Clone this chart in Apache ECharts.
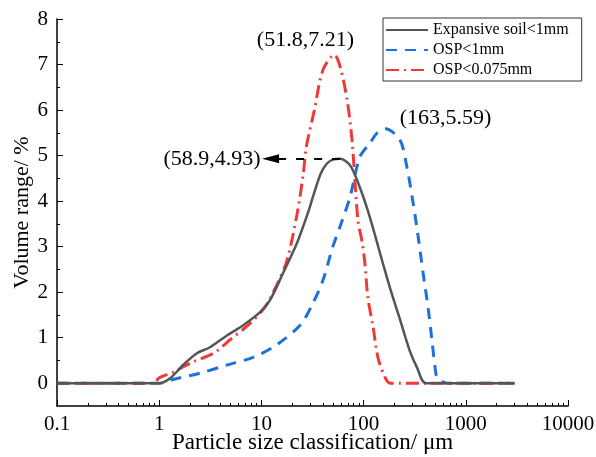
<!DOCTYPE html>
<html>
<head>
<meta charset="utf-8">
<script src="https://cdn.jsdelivr.net/npm/echarts@6/dist/echarts.min.js"></script>
<style>
    html, body {margin: 0; padding: 0; background: #fff;}
    #main {width: 596px; height: 457px;}
</style>
</head>
<body>
<div id="main"></div>
<script>
    // particle size (um) / volume (%)
    const soilX = [0.1, 1.0, 1.28, 1.71, 2.34, 3.14, 4.6, 6.6, 9.7, 12.1, 16.3, 22.3, 28.6, 32, 38, 43.6, 50, 58.9, 73.6, 92, 115, 160, 182, 227, 284, 331, 407, 1000, 3000]
    const soilY = [0, 0, 0.11, 0.40, 0.66, 0.79, 1.05, 1.27, 1.56, 1.82, 2.42, 3.08, 3.75, 4.10, 4.60, 4.82, 4.91, 4.93, 4.79, 4.30, 3.65, 2.51, 2.08, 1.40, 0.70, 0.36, 0, 0, 0]

    const osp1X = [0.1, 1.0, 1.28, 2.5, 4.6, 8.3, 14, 24, 32, 40, 50, 59, 73.6, 92, 115, 135, 163, 227, 265, 302, 338, 382, 427, 466, 500, 525, 660, 1000, 3000]
    const osp1Y = [0, 0, 0.07, 0.22, 0.40, 0.57, 0.84, 1.28, 1.76, 2.26, 3.0, 3.45, 4.09, 4.97, 5.27, 5.49, 5.59, 5.34, 4.75, 4.02, 3.30, 2.42, 1.67, 0.95, 0.36, 0.13, 0, 0, 0]

    const osp075X = [0.1, 0.85, 1.02, 1.36, 2.1, 3.4, 4.9, 7.7, 10.8, 14.1, 17.8, 22.4, 25.7, 27.5, 33, 40, 51.8, 59, 69, 77, 88, 96, 103, 110, 124, 138, 162, 182, 400, 1000, 3000]
    const osp075Y = [0, 0, 0.13, 0.24, 0.46, 0.66, 0.95, 1.31, 1.67, 2.15, 2.70, 3.73, 4.60, 5.19, 6.00, 6.88, 7.21, 6.95, 6.22, 5.34, 3.58, 3.14, 2.63, 1.89, 1.23, 0.57, 0.13, 0, 0, 0, 0]

    const names = ['Expansive soil<1mm', 'OSP<1mm', 'OSP<0.075mm']
    const yTicks = [0, 1, 2, 3, 4, 5, 6, 7, 8]
    const yMinor = [0.5, 1.5, 2.5, 3.5, 4.5, 5.5, 6.5, 7.5]
    const xMinor = []
    for (let d = 0.1; d < 5000; d *= 10) {
        for (let k = 2; k <= 9; k++) xMinor.push(+(k * d).toPrecision(2))
    }

    const font = 'Liberation Serif'
    const pairs = (xs, ys) => xs.map((x, i) => [x, ys[i]])

    let myChart = echarts.init(document.getElementById('main'))

    const xBase = {
        type: 'log', logBase: 10, min: 0.1, max: 10000,
        position: 'bottom',
        splitLine: {show: false}
    }
    const yBase = {
        type: 'value', min: -0.5, max: 8,
        position: 'left',
        splitLine: {show: false}
    }

    myChart.setOption({
        animation: false,
        textStyle: {fontFamily: font, color: '#000'},
        grid: {left: 57, right: 28, top: 19, bottom: 51, outerBoundsMode: 'none'},
        legend: {
            orient: 'vertical',
            left: 383, top: 18,
            padding: [4, 13, 3, 2],
            itemWidth: 42, itemHeight: 14, itemGap: 4,
            borderColor: '#333', borderWidth: 1,
            itemStyle: {opacity: 0},
            textStyle: {fontFamily: font, fontSize: 16, color: '#000', lineHeight: 16},
            data: names
        },
        xAxis: [
            Object.assign({}, xBase, {
                name: 'Particle size classification/ μm',
                nameLocation: 'middle', nameGap: 25, nameMoveOverlap: false,
                nameTextStyle: {fontFamily: font, fontSize: 23, color: '#000'},
                axisLine: {onZero: false, lineStyle: {color: '#000', width: 1.5}},
                axisTick: {inside: true, length: 6, lineStyle: {color: '#000'}},
                axisLabel: {fontFamily: font, fontSize: 21, color: '#000', margin: 8,
                    formatter: v => String(v)}
            }),
            Object.assign({}, xBase, {
                axisLine: {show: false, onZero: false},
                axisLabel: {show: false},
                axisTick: {inside: true, length: 3, customValues: xMinor, lineStyle: {color: '#000'}}
            })
        ],
        yAxis: [
            Object.assign({}, yBase, {
                name: 'Volume range/ %',
                nameLocation: 'middle', nameGap: 24, nameMoveOverlap: false,
                nameTextStyle: {fontFamily: font, fontSize: 22, color: '#000'},
                axisLine: {show: true, onZero: false, lineStyle: {color: '#000', width: 1.5}},
                axisTick: {show: true, inside: true, length: 6, customValues: yTicks, lineStyle: {color: '#000'}},
                axisLabel: {fontFamily: font, fontSize: 21, color: '#000', margin: 9, customValues: yTicks}
            }),
            Object.assign({}, yBase, {
                axisLine: {show: false, onZero: false},
                axisLabel: {show: false},
                axisTick: {show: true, inside: true, length: 3, customValues: yMinor, lineStyle: {color: '#000'}}
            })
        ],
        series: [
            {
                name: names[0], type: 'line', data: pairs(soilX, soilY),
                symbol: 'none', smooth: 0.3, z: 3,
                lineStyle: {color: '#555555', width: 2.5, type: 'solid'},
                itemStyle: {color: '#555555'},
                markLine: {
                    silent: true, animation: false,
                    symbol: ['none', 'triangle'],
                    lineStyle: {color: '#000', width: 1.8, type: [8, 10]},
                    label: {
                        show: true, position: 'end', distance: 10,
                        formatter: '(58.9,4.93)',
                        fontFamily: font, fontSize: 22, color: '#000'
                    },
                    data: [[
                        {coord: [58.9, 4.93]},
                        {coord: [12.3, 4.93], symbolSize: [9, 17]}
                    ]]
                }
            },
            {
                name: names[1], type: 'line', data: pairs(osp1X, osp1Y),
                symbol: 'none', smooth: 0.3, z: 2,
                lineStyle: {color: '#1f6fdc', width: 3, type: [11, 8]},
                itemStyle: {color: '#1f6fdc'},
                markPoint: {
                    symbol: 'circle', symbolSize: 1,
                    itemStyle: {color: 'rgba(0,0,0,0)'},
                    label: {
                        show: true, position: 'right', distance: 14, offset: [0, -11],
                        formatter: '(163,5.59)',
                        fontFamily: font, fontSize: 22, color: '#000'
                    },
                    data: [{coord: [163, 5.59]}]
                }
            },
            {
                name: names[2], type: 'line', data: pairs(osp075X, osp075Y),
                symbol: 'none', smooth: 0.3, z: 2,
                lineStyle: {color: '#f03a3a', width: 3, type: [13, 5, 2, 5]},
                itemStyle: {color: '#f03a3a'},
                markPoint: {
                    symbol: 'circle', symbolSize: 1,
                    itemStyle: {color: 'rgba(0,0,0,0)'},
                    label: {
                        show: true, position: 'top', distance: 3, offset: [-29, 0],
                        formatter: '(51.8,7.21)',
                        fontFamily: font, fontSize: 22, color: '#000'
                    },
                    data: [{coord: [51.8, 7.21]}]
                }
            }
        ]
    })
</script>
</body>
</html>
